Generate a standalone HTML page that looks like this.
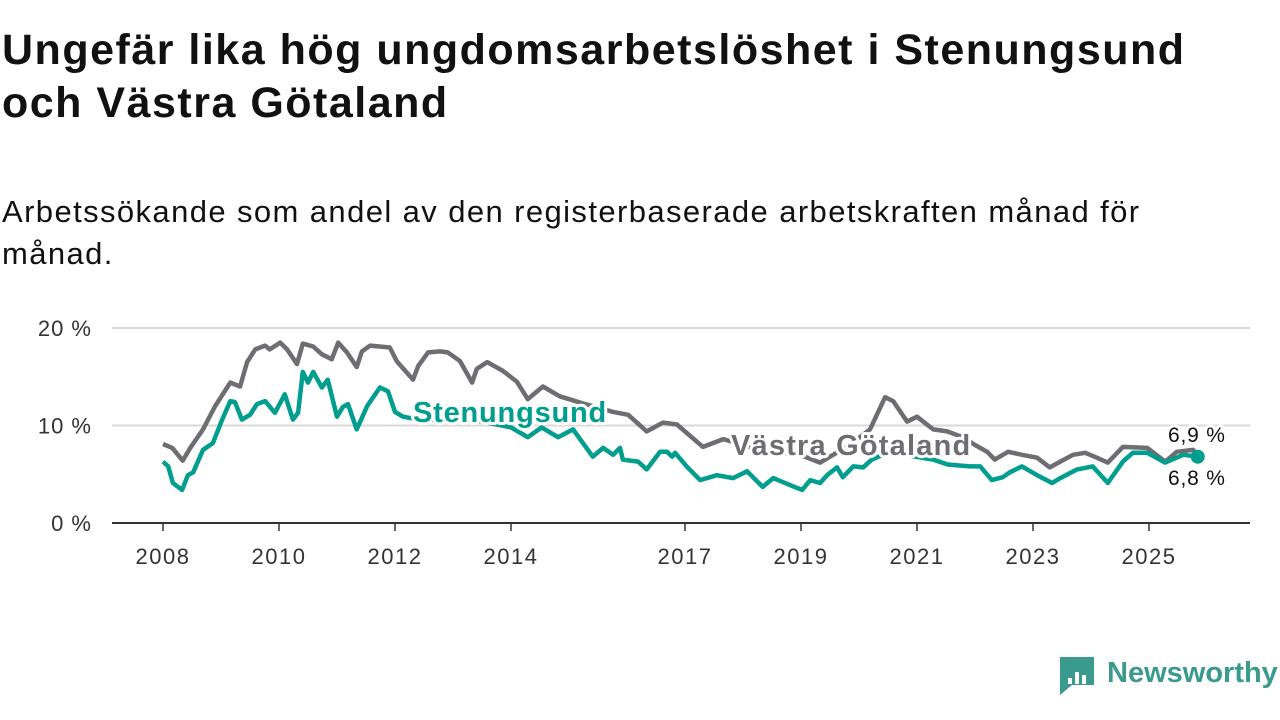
<!DOCTYPE html>
<html><head><meta charset="utf-8">
<style>
body{margin:0;background:#fff;width:1280px;height:720px;overflow:hidden;font-family:"Liberation Sans",sans-serif;}
h1{position:absolute;left:2px;top:24px;margin:0;font-size:43px;line-height:53px;font-weight:bold;color:#111;letter-spacing:1.5px}
.sub{position:absolute;left:2px;top:191px;margin:0;font-size:31px;line-height:42px;color:#111;letter-spacing:1.4px}
svg{position:absolute;left:0;top:0}
</style></head><body>
<h1>Ungefär lika hög ungdomsarbetslöshet i Stenungsund<br>och Västra Götaland</h1>
<p class="sub">Arbetssökande som andel av den registerbaserade arbetskraften månad för<br>månad.</p>
<svg id="chart" width="1280" height="720"></svg>
<script>
const yTicks=[0,10,20];
const yTickLabels=["0 %","10 %","20 %"];
const xTicks=[2008,2010,2012,2014,2017,2019,2021,2023,2025];
const vgYears=[2008.0,2008.16,2008.34,2008.47,2008.69,2008.9,2009.16,2009.33,2009.45,2009.59,2009.76,2009.84,2010.02,2010.14,2010.31,2010.41,2010.59,2010.74,2010.91,2011.02,2011.17,2011.34,2011.43,2011.57,2011.91,2012.03,2012.31,2012.4,2012.57,2012.78,2012.91,2013.12,2013.33,2013.41,2013.59,2013.86,2014.1,2014.29,2014.55,2014.84,2015.28,2015.76,2016.02,2016.34,2016.62,2016.86,2017.31,2017.66,2018.29,2018.98,2019.33,2019.84,2020.19,2020.45,2020.59,2020.83,2021.0,2021.28,2021.52,2021.79,2022.0,2022.21,2022.34,2022.57,2022.81,2023.07,2023.29,2023.47,2023.69,2023.9,2024.1,2024.29,2024.55,2024.97,2025.28,2025.48,2025.76,2025.84];
const vgValues=[8.1,7.7,6.4,7.7,9.6,12.0,14.4,14.0,16.5,17.8,18.2,17.8,18.5,17.8,16.3,18.4,18.1,17.3,16.8,18.5,17.5,16.0,17.6,18.2,18.0,16.6,14.7,16.1,17.5,17.6,17.5,16.6,14.4,15.8,16.5,15.6,14.5,12.7,14.0,13.0,12.2,11.4,11.1,9.4,10.3,10.1,7.8,8.6,7.5,7.0,6.2,8.0,9.6,12.9,12.5,10.4,10.9,9.6,9.4,8.8,8.0,7.3,6.5,7.3,7.0,6.7,5.7,6.3,7.0,7.2,6.7,6.2,7.8,7.7,6.3,7.3,7.5,6.9];
const stYears=[2008.0,2008.09,2008.17,2008.33,2008.43,2008.52,2008.69,2008.86,2009.02,2009.16,2009.24,2009.36,2009.5,2009.62,2009.76,2009.93,2010.1,2010.24,2010.33,2010.41,2010.5,2010.59,2010.74,2010.84,2011.0,2011.1,2011.19,2011.34,2011.52,2011.74,2011.88,2012.0,2012.14,2012.5,2013.0,2013.5,2014.0,2014.29,2014.53,2014.81,2015.07,2015.41,2015.59,2015.76,2015.88,2015.93,2016.19,2016.34,2016.57,2016.69,2016.78,2016.83,2017.03,2017.26,2017.55,2017.83,2018.07,2018.34,2018.52,2018.93,2019.02,2019.16,2019.33,2019.45,2019.62,2019.72,2019.9,2020.07,2020.22,2020.53,2020.79,2021.28,2021.53,2021.91,2022.09,2022.29,2022.48,2022.6,2022.81,2023.07,2023.33,2023.47,2023.76,2024.03,2024.29,2024.55,2024.72,2024.97,2025.28,2025.59,2025.84];
const stValues=[6.3,5.8,4.1,3.4,4.9,5.2,7.5,8.2,10.6,12.5,12.4,10.6,11.1,12.2,12.5,11.3,13.2,10.6,11.3,15.5,14.4,15.5,13.9,14.7,10.9,11.9,12.2,9.6,12.0,13.9,13.5,11.4,10.9,10.5,10.8,10.4,9.8,8.8,9.8,8.8,9.6,6.8,7.7,7.0,7.7,6.5,6.3,5.5,7.3,7.3,6.8,7.2,5.8,4.4,4.9,4.6,5.3,3.7,4.6,3.6,3.4,4.4,4.1,4.9,5.7,4.7,5.8,5.7,6.5,7.3,7.0,6.5,6.0,5.8,5.8,4.4,4.7,5.2,5.8,4.9,4.1,4.6,5.5,5.8,4.1,6.3,7.2,7.2,6.2,7.0,6.8];

const NS="http://www.w3.org/2000/svg";
const svg=document.getElementById('chart');
const X=y=>163+(y-2008)*58;
const Y=v=>523-v*9.75;
function mk(tag,attrs,parent){const e=document.createElementNS(NS,tag);for(const k in attrs)e.setAttribute(k,attrs[k]);(parent||svg).appendChild(e);return e;}
yTicks.forEach((t,i)=>{
  if(t>0){const g=mk('line',{x1:112,x2:1250,y1:Y(t),y2:Y(t),stroke:'#d9d9d9','stroke-width':2});
  
  }
  const l=mk('text',{x:92,y:Y(t)+8,'text-anchor':'end','font-size':22,'letter-spacing':1,fill:'#333'});
  l.textContent=yTickLabels[i];
  
  
});
const ax=mk('line',{x1:112,x2:1250,y1:523,y2:523,stroke:'#333','stroke-width':2});


xTicks.forEach(t=>{
  const tk=mk('line',{x1:X(t),x2:X(t),y1:523,y2:531,stroke:'#333','stroke-width':1.5});
  
  
  const l=mk('text',{x:X(t),y:564,'text-anchor':'middle','font-size':22,'letter-spacing':1.5,fill:'#333'});
  l.textContent=t;
  
  
});
function path(xs,vs){return xs.map((x,i)=>(i?'L':'M')+X(x).toFixed(1)+','+Y(vs[i]).toFixed(1)).join('');}
const pv=mk('path',{d:path(vgYears,vgValues),fill:'none',stroke:'#6e6d72','stroke-width':4.5,'stroke-linejoin':'round'});


const ps=mk('path',{d:path(stYears,stValues),fill:'none',stroke:'#009e8e','stroke-width':4.5,'stroke-linejoin':'round'});


const dot=mk('circle',{cx:X(stYears[stYears.length-1]),cy:Y(stValues[stValues.length-1]),r:7,fill:'#009e8e'});


function lab(txt,x,y,col,size,weight,name,ls){
  const t=mk('text',{x:x,y:y,'font-size':size,'font-weight':weight,'letter-spacing':ls,fill:col,stroke:'#fff','stroke-width':6,'paint-order':'stroke','stroke-linejoin':'round'});
  t.textContent=txt;
  
  
}
lab('Stenungsund',413,422,'#009e8e',29,'bold','label-stenungsund',0.8);
lab('Västra Götaland',731,455,'#6e6d72',29,'bold','label-vastra-gotaland',1.2);
lab('6,9 %',1168,442,'#111',21,'normal','end-label-vastra-gotaland',0.8);
lab('6,8 %',1168,485,'#111',21,'normal','end-label-stenungsund',0.8);
// logo
const lg=mk('g',{});


mk('path',{d:'M1060,657 h34 v28 h-22 l-12,10 z',fill:'#3a9a8e'},lg);
[[1068,678,4,6],[1075,672,4,12],[1082,675,4,9]].forEach(r=>mk('rect',{x:r[0],y:r[1],width:r[2],height:r[3],fill:'#fff'},lg));
const lt=mk('text',{x:1107,y:682,'font-size':29,'font-weight':'bold',fill:'#3a9a8e'},lg);
lt.textContent='Newsworthy';
</script>
</body></html>
